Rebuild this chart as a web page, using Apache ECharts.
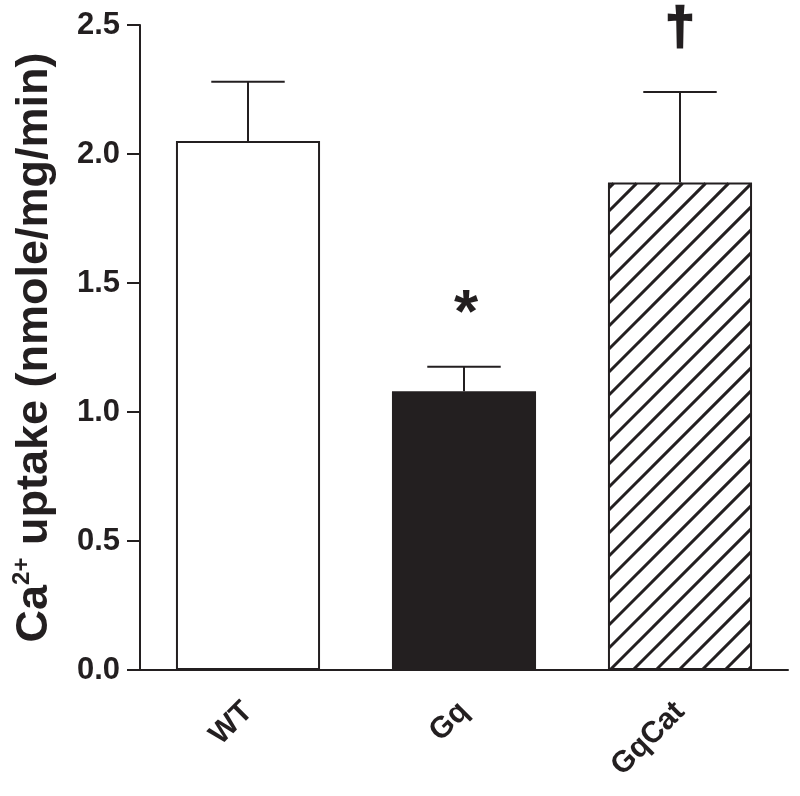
<!DOCTYPE html>
<html><head><meta charset="utf-8">
<script src="https://cdn.jsdelivr.net/npm/echarts@6/dist/echarts.min.js"></script>
<style>html,body{margin:0;padding:0;background:#fff}#c{width:800px;height:796px}</style>
</head><body><div id="c"></div>
<script>
const categories = ['WT', 'Gq', 'GqCat'];
const means = [2.05, 1.08, 1.89];
const sem = [0.23, 0.095, 0.35];
const marks = ['', '*', '\u2020'];
const yMin = 0, yMax = 2.5, yStep = 0.5;

const ink = '#231f20';
const font = '"Liberation Sans", Arial, Helvetica, sans-serif';
const fills = ['#fff', ink, 'hatch'];
const barFrac = 0.667;

const chart = echarts.init(document.getElementById('c'), null, { renderer: 'canvas' });
chart.setOption({
  animation: false,
  backgroundColor: '#fff',
  grid: { left: 140, right: 12, top: 25, bottom: 126 },
  xAxis: {
    type: 'category', data: categories,
    axisLine: { lineStyle: { color: ink, width: 2 } },
    axisTick: { alignWithLabel: true, length: 13, lineStyle: { color: ink, width: 2 } },
    axisLabel: { rotate: 45, margin: 37, color: ink, fontSize: 30, fontWeight: 'bold', fontFamily: font }
  },
  yAxis: {
    type: 'value', min: yMin, max: yMax, interval: yStep,
    splitLine: { show: false },
    axisLine: { show: true, lineStyle: { color: ink, width: 2 } },
    axisTick: { show: true, length: 13, lineStyle: { color: ink, width: 2 } },
    axisLabel: { margin: 20, color: ink, fontSize: 31, fontWeight: 'bold', fontFamily: font,
      formatter: v => v.toFixed(1) },
    name: '{b|Ca}{s|2+}{b| uptake (nmole/mg/min)}',
    nameLocation: 'middle', nameRotate: 90, nameGap: 80,
    nameTextStyle: {
      rich: {
        b: { fontSize: 45, fontWeight: 'bold', color: ink, fontFamily: font, lineHeight: 50 },
        s: { fontSize: 24, fontWeight: 'bold', color: ink, fontFamily: font, lineHeight: 26, verticalAlign: 'top' }
      }
    }
  },
  series: [
    {
      type: 'bar', barWidth: (barFrac * 100) + '%',
      data: means.map((v, i) => ({ value: v,
        itemStyle: { color: fills[i] === 'hatch' ? '#fff' : fills[i], borderColor: ink, borderWidth: 2 } })),
      z: 2
    },
    {
      // diagonal hatching clipped to the bar rectangle
      type: 'custom', z: 3,
      data: means.map((v, i) => [i, v]),
      encode: { x: 0, y: 1 },
      renderItem: (params, api) => {
        if (fills[params.dataIndex] !== 'hatch') return null;
        const top = api.coord([api.value(0), api.value(1)]);
        const base = api.coord([api.value(0), 0]);
        const w = api.size([1, 0])[0] * barFrac;
        const x0 = top[0] - w / 2 + 1, x1 = top[0] + w / 2 - 1;
        const y0 = top[1] + 1, y1 = base[1] - 1;
        const step = 23;
        const lines = [];
        for (let k = x0 + y0 - step * 8 + 2 + ((y1 - y0) % step); k < x1 + y1 + step; k += step) {
          const xa = Math.max(x0, k - y1), xb = Math.min(x1, k - y0);
          if (xb - xa < 0.5) continue;
          lines.push({ type: 'line', shape: { x1: xa, y1: k - xa, x2: xb, y2: k - xb },
            style: { stroke: ink, lineWidth: 3 } });
        }
        return { type: 'group', children: lines };
      }
    },
    {
      type: 'custom', z: 4,
      data: means.map((v, i) => [i, v, v + sem[i]]),
      encode: { x: 0, y: [1, 2] },
      renderItem: (params, api) => {
        const b = api.coord([api.value(0), api.value(1)]);
        const t = api.coord([api.value(0), api.value(2)]);
        const hw = api.size([1, 0])[0] * 0.17;
        return { type: 'group', children: [
          { type: 'line', shape: { x1: b[0], y1: b[1], x2: t[0], y2: t[1] }, style: { stroke: ink, lineWidth: 2 } },
          { type: 'line', shape: { x1: t[0] - hw, y1: t[1], x2: t[0] + hw, y2: t[1] }, style: { stroke: ink, lineWidth: 2 } }
        ]};
      }
    },
    {
      type: 'custom', z: 5,
      data: means.map((v, i) => [i, v + sem[i]]),
      encode: { x: 0, y: 1 },
      renderItem: (params, api) => {
        const m = marks[params.dataIndex];
        if (!m) return null;
        const t = api.coord([api.value(0), api.value(1)]);
        const isStar = m === '*';
        return { type: 'text', x: t[0] + (isStar ? 2 : 0), y: t[1] - (isStar ? 52 : 62),
          style: { text: m, fill: ink, fontSize: isStar ? 62 : 52, fontWeight: 'bold', fontFamily: font,
            stroke: isStar ? null : ink, lineWidth: isStar ? 0 : 2.5,
            align: 'center', verticalAlign: 'middle' } };
      }
    }
  ]
});

const y0 = chart.convertToPixel({ yAxisIndex: 0 }, yMin);
const c0 = chart.convertToPixel({ xAxisIndex: 0 }, 0);
const c1 = chart.convertToPixel({ xAxisIndex: 0 }, 1);
const xl = c0 - (c1 - c0) / 2;
chart.setOption({
  graphic: [{ type: 'line', shape: { x1: xl - 13, y1: y0, x2: xl, y2: y0 }, style: { stroke: ink, lineWidth: 2 } }]
});
</script></body></html>
